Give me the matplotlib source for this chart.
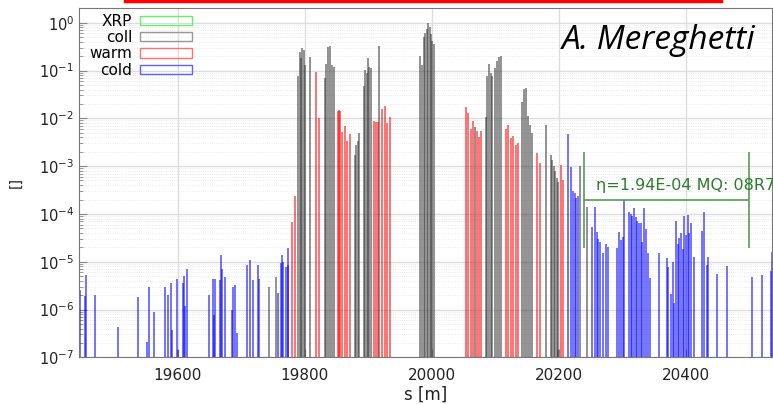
import numpy as np
import matplotlib.pyplot as plt
from matplotlib.patches import Patch
from matplotlib.lines import Line2D
from matplotlib.ticker import LogLocator, NullFormatter

# loss map data: s [m], normalised loss []
s_cold = [19444, 19446, 19454, 19455.5, 19469, 19505.5, 19537.5, 19551.6, 19554.8, 19562.2,
          19579.5, 19584.7, 19589.4, 19590.5, 19598, 19607.5, 19610, 19611, 19614.7,
          19649.3, 19655.6, 19656, 19658.3, 19666, 19668.5, 19669.5, 19674, 19684.6, 19687.2,
          19690, 19692.5, 19708.3, 19713.5, 19718.7, 19726.6, 19728, 19757, 19761.7, 19764.3,
          19766, 19769.4, 19773.3, 19774,
          20214.2, 20218.9, 20222.5, 20225.2, 20227.8, 20230.5, 20252.9, 20256.6, 20259.7,
          20262.3, 20265, 20269.2, 20273.9, 20278, 20292.2, 20295.4, 20298, 20300.7, 20303.3,
          20310.7, 20313.3, 20315.9, 20318.6, 20321.3, 20323.8, 20326.5, 20329.2, 20331.7,
          20334.9, 20337.5, 20340.7, 20343.3, 20358, 20370, 20372.6, 20376.9, 20379.6, 20382.1,
          20384.8, 20387.4, 20390, 20392.6, 20395.3, 20397.8, 20400.5, 20403.2, 20405.2,
          20408.4, 20413.6, 20425.3, 20428.9, 20433.2, 20435.7, 20449.9, 20465.7, 20504.1,
          20519.8, 20534, 20535.6]
loss_cold = [4.9e-6, 2.6e-6, 1.9e-6, 5.2e-6, 2.0e-6, 4.4e-7, 1.8e-6, 2.1e-7, 2.9e-6, 8.9e-7,
             2.9e-6, 2.0e-6, 3.5e-6, 3.7e-7, 4.4e-6, 3.6e-6, 5.0e-6, 1.2e-6, 7.1e-6,
             2.0e-6, 4.3e-6, 7.7e-7, 4.3e-6, 4.2e-6, 1.4e-5, 6.9e-6, 4.9e-6, 1.0e-6, 2.9e-6,
             3.2e-6, 3.3e-7, 8.5e-6, 1.08e-5, 4.2e-6, 8.5e-6, 4.3e-6, 2.2e-6, 9.3e-6, 1.4e-5,
             1.0e-5, 7.6e-6, 1.95e-5, 8.5e-6,
             4.7e-3, 9.6e-4, 3.0e-4, 2.8e-4, 2.2e-4, 2.4e-4, 5.4e-5, 1.4e-4, 4.1e-5,
             3.0e-5, 2.6e-5, 1.55e-5, 2.3e-5, 2.0e-5, 1.9e-5, 4.1e-5, 2.85e-5, 3.3e-5, 1.95e-4,
             1.1e-4, 1.0e-4, 9.0e-5, 1.3e-4, 8.7e-5, 7.1e-5, 6.3e-5, 6.5e-5, 2.6e-5,
             1.3e-4, 4.8e-5, 1.55e-5, 4.5e-6, 1.55e-5, 1.2e-5, 7.6e-6, 2.1e-6, 1.0e-5, 1.4e-6,
             7.1e-5, 2.4e-5, 3.1e-5, 3.9e-5, 1.85e-5, 9.1e-5, 3.6e-5, 9.3e-5, 3.9e-5,
             6.6e-5, 1.26e-5, 4.4e-5, 1.1e-4, 8.5e-6, 1.26e-5, 5.5e-6, 8.1e-6, 4.9e-6,
             5.2e-6, 6.5e-6, 1.6e-5]

s_warm = [19780, 19784, 19817.5, 19822.7, 19851.6, 19853.7, 19855.8, 19859, 19862.7, 19866.8,
          19870.6, 19909.4, 19912, 19914.7, 19921.6, 19926, 19929.6, 19933.4, 20053.3, 20057.5,
          20061.2, 20064.9, 20071.2, 20074.4, 20078, 20116.7, 20120.4, 20124.2, 20128.3, 20132,
          20136.1, 20165.1, 20170.4, 20203.1, 20207.3]
loss_warm = [6.9e-5, 2.4e-4, 0.093, 0.010, 0.0143, 0.0146, 0.014, 0.0051, 0.0070, 0.0033,
             0.0046, 0.0087, 0.0085, 0.0082, 0.0158, 0.018, 0.0080, 0.0104, 0.0173, 0.0130,
             0.0060, 0.0087, 0.0053, 0.0040, 0.0055, 0.0060, 0.0074, 0.0039, 0.0043, 0.0028,
             0.0030, 0.0019, 0.00116, 0.00107, 0.00052]

s_coll = [19599.5, 19743.4, 19754.4, 19789.6, 19791.5, 19793.7, 19795.8, 19798, 19800, 19808,
          19831.6, 19833.7, 19835.9, 19839, 19843.2, 19845.8, 19878.9, 19881, 19883.2, 19885.8,
          19893.2, 19895.3, 19897.5, 19899, 19901, 19903.7, 19917.4, 19981.7, 19983.7, 19986.9,
          19989, 19991.6, 19994.2, 19996.4, 19998.7, 20000.8, 20003.4, 20068.6, 20084.6, 20087.2,
          20090, 20092.6, 20095.2, 20099, 20102, 20105.2, 20108.8, 20142.4, 20144.6, 20148.3,
          20151.9, 20154.6, 20157.8, 20179.9, 20187.8, 20189.9, 20192, 20194.6, 20196.8, 20198.9,
          20199.5, 20233.1, 20245.1]
loss_coll = [1.4e-7, 2.9e-6, 4.7e-6, 0.076, 0.24, 0.18, 0.30, 0.27, 0.13, 0.19,
             0.069, 0.14, 0.31, 0.32, 0.13, 0.12, 0.0017, 0.0027, 0.0033, 0.0049,
             0.047, 0.104, 0.089, 0.18, 0.12, 0.115, 0.33, 0.20, 0.13, 0.50,
             0.61, 0.75, 1.0, 0.80, 0.58, 0.41, 0.35, 0.0065, 0.0104, 0.076,
             0.138, 0.089, 0.078, 0.115, 0.155, 0.19, 0.20, 0.0216, 0.042, 0.043,
             0.0110, 0.0074, 0.0049, 0.0074, 0.0017, 0.00135, 0.001, 0.00078, 0.00056, 0.00046,
             1.4e-7, 0.00102, 0.000138]

# highest cold loss marker
eta = 1.94e-4
eta_s = [20239, 20499]
eta_text = 'η=1.94E-04 MQ: 08R7'

ymin = 1e-7
fig = plt.figure(figsize=(7.73, 4.04), dpi=100)
ax = fig.add_axes([79/773, 46.7/404, 693/773, 349.8/404])

ax.vlines(s_coll, ymin, loss_coll, color='#383838', alpha=0.55, lw=1.4)
ax.vlines(s_warm, ymin, loss_warm, color='#ff0000', alpha=0.55, lw=1.4)
ax.vlines(s_cold, ymin, loss_cold, color='#0000ff', alpha=0.55, lw=1.4)

# eta annotation
g = '#5a9a5a'
ax.vlines(eta_s, eta / 10, eta * 10, color=g, lw=1.2)
ax.hlines(eta, eta_s[0], eta_s[1], color=g, lw=1.2)
ax.text(eta_s[0] + 19, eta * 2.0, eta_text, color='#2e7a2e', fontsize=11.5, va='center', ha='left', clip_on=False)

ax.set_yscale('log')
ax.set_xlim(19444, 20536)
ax.set_ylim(ymin, 2.08)
ax.set_xticks([19600, 19800, 20000, 20200, 20400])
ax.yaxis.set_major_locator(LogLocator(base=10, numticks=10))
ax.yaxis.set_minor_locator(LogLocator(base=10, subs=np.arange(2, 10), numticks=10))
ax.yaxis.set_minor_formatter(NullFormatter())
ax.tick_params(which='both', direction='in', labelcolor='#222222', color='#888888')
ax.tick_params(axis='x', labelsize=11, pad=8)
ax.tick_params(axis='y', labelsize=10.5)
ax.tick_params(which='major', length=6)
ax.tick_params(which='minor', length=3)
ax.grid(which='major', color='#dddddd', lw=1.0)
ax.grid(which='minor', axis='y', color='#e4e4e4', lw=0.6, ls=':')
ax.set_axisbelow(True)
for sp in ax.spines.values():
    sp.set_color('#777777')

ax.set_xlabel('s [m]', fontsize=12, color='#222222', labelpad=2)
ax.set_ylabel('[]', fontsize=10, color='#222222', labelpad=12)

# legend, gnuplot style (label then empty box)
handles = [Patch(facecolor='none', edgecolor='#66ee66', lw=1),
           Patch(facecolor='none', edgecolor='#999999', lw=1),
           Patch(facecolor='none', edgecolor='#ff7070', lw=1),
           Patch(facecolor='none', edgecolor='#6060ff', lw=1)]
ax.legend(handles, ['XRP', 'coll', 'warm', 'cold'], loc='upper right',
          bbox_to_anchor=(192/773, 1 - 14/404), bbox_transform=fig.transFigure,
          frameon=False, markerfirst=False, fontsize=11, handlelength=3.4, handleheight=0.55,
          handletextpad=0.5, labelspacing=0.08, borderpad=0, borderaxespad=0)

fig.text(755/773, 1 - 49/404, 'A. Mereghetti', fontsize=24, style='italic', family='Open Sans',
         ha='right', va='baseline')

# red box edge at top of slide
fig.add_artist(Line2D([125/773, 721/773], [1 - 1/404, 1 - 1/404], transform=fig.transFigure,
                      color='#ff0000', lw=2.5))

fig.savefig('out.png', dpi=100)
